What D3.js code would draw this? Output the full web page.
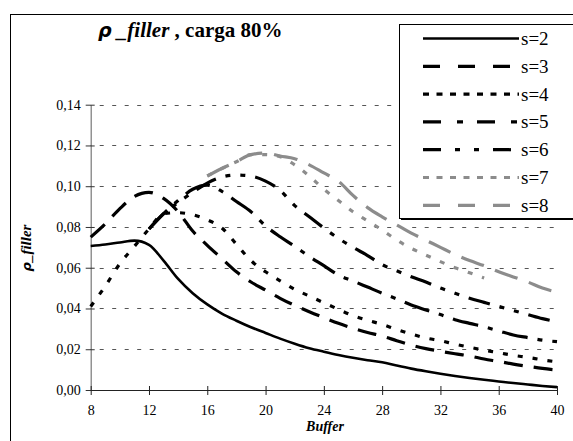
<!DOCTYPE html>
<html><head><meta charset="utf-8">
<script src="https://cdn.jsdelivr.net/npm/d3@7"></script>
<style>
html,body{margin:0;padding:0;background:#fff;}
svg{display:block;}
</style></head>
<body>
<svg id="chart" width="573" height="441"></svg>
<script>
// ---- data ----
const buffers = [8,9,10,11,12,13,14,15,16,17,18,19,20,21,22,23,24,25,26,27,28,29,30,31,32,33,34,35,36,37,38,39,40];
const s2 = [.0707,.0714,.0724,.0733,.0712,.0635,.0545,.0475,.0420,.0375,.0340,.0308,.0280,.0252,.0227,.0205,.0188,.0172,.0158,.0146,.0136,.0120,.0105,.0092,.0080,.0069,.0059,.0050,.0042,.0034,.0027,.0020,.0014];
const s3 = [.075,.0815,.089,.095,.097,.094,.0875,.078,.071,.0645,.058,.053,.049,.045,.0415,.0384,.0355,.0327,.0303,.0282,.0265,.0242,.022,.0203,.019,.0178,.0167,.0152,.014,.0127,.0116,.0106,.0098];
const s4 = [.041,.051,.062,.0705,.079,.0865,.087,.086,.0835,.0795,.0715,.0635,.058,.0536,.0494,.0461,.0428,.0396,.0365,.0342,.0322,.0297,.0275,.0255,.0242,.0225,.021,.0195,.0183,.017,.016,.0148,.0138];
const s5 = [null,null,null,null,.079,.0865,.093,.0985,.1005,.0975,.0925,.0875,.0805,.0752,.0705,.0655,.061,.0564,.0535,.0505,.0475,.0447,.0417,.0393,.037,.0345,.0327,.031,.029,.027,.0257,.0245,.0237];
const s6 = [null,null,null,null,.079,.0865,.092,.097,.1015,.1045,.1055,.105,.1025,.098,.0905,.085,.0795,.0744,.070,.066,.0615,.0585,.0556,.053,.050,.0475,.045,.043,.041,.039,.037,.035,.0335];
const s7 = [null,null,null,null,null,null,null,null,.105,.1087,.112,.1155,.1155,.1145,.1105,.105,.0985,.093,.0875,.083,.0785,.0736,.0695,.0662,.063,.060,.0575,.055,null,null,null,null,null];
const s8 = [null,null,null,null,null,null,null,null,.105,.1087,.112,.1155,.1163,.1148,.1135,.1105,.1065,.1025,.0955,.0895,.085,.081,.077,.0735,.070,.0665,.0635,.061,.058,.0555,.053,.050,.048];
const seriesNames = ["s=2","s=3","s=4","s=5","s=6","s=7","s=8"];
const seriesValues = [s2,s3,s4,s5,s6,s7,s8];
const yTicks = [0,0.02,0.04,0.06,0.08,0.10,0.12,0.14];
const xTicks = [8,12,16,20,24,28,32,36,40];

// ---- styles ----
const SERIF = '"Liberation Serif"';
const styles = [
  {color:"#000", width:2.6, dash:null, legDash:null},
  {color:"#000", width:3.2, dash:"19,11", legDash:"17,18"},
  {color:"#000", width:3.2, dash:"5,10", legDash:"6,7.5"},
  {color:"#000", width:3.2, dash:"26,10,5,10", legDash:"18,16,6,14"},
  {color:"#000", width:3.2, dash:"22,10,5,10,5,10", legDash:"18,14,5,14,5,14"},
  {color:"#8c8c8c", width:3.2, dash:"5,10", legDash:"6,7.5"},
  {color:"#8c8c8c", width:3.2, dash:"24,12", legDash:"17,18"}
];

const svg = d3.select("#chart");
const x = d3.scaleLinear().domain([8,40]).range([90.7,557]);
const y = d3.scaleLinear().domain([0,0.14]).range([390,104.7]);

// outer frame
svg.append("rect").attr("x",10.5).attr("y",14.5).attr("width",575).attr("height",440)
  .attr("fill","#fff").attr("stroke","#000").attr("stroke-width",1);

// gridlines
svg.append("g").selectAll("line").data(yTicks.filter(d=>d>0)).join("line")
  .attr("x1",x(8)).attr("x2",x(40))
  .attr("y1",d=>Math.round(y(d))+0.5).attr("y2",d=>Math.round(y(d))+0.5)
  .attr("stroke","#555").attr("stroke-width",1).attr("stroke-dasharray","4,8.5")
  .attr("stroke-dashoffset",-9);

// y axis
const yAxis = svg.append("g").attr("transform",`translate(${x(8)},0)`)
  .call(d3.axisLeft(y).tickValues(yTicks).tickFormat(d=>d3.format(".2f")(d).replace(".",",")).tickSizeOuter(0));
yAxis.attr("font-family",null);
yAxis.select(".domain").attr("stroke","#777").attr("stroke-width",1.2);
yAxis.selectAll(".tick line").attr("x1",4).attr("x2",-5).attr("stroke","#333");
yAxis.selectAll(".tick text").attr("x",-10).style("font-size","14px").style("font-family",SERIF).attr("fill","#000");

// x axis
const xAxis = svg.append("g").attr("transform",`translate(0,${y(0)})`)
  .call(d3.axisBottom(x).tickValues(xTicks).tickSizeOuter(0));
xAxis.attr("font-family",null);
xAxis.select(".domain").attr("stroke","#222").attr("stroke-width",1.2);
xAxis.selectAll(".tick line").attr("y1",-4).attr("y2",5).attr("stroke","#222");
xAxis.selectAll(".tick text").attr("y",15).style("font-size","14px").style("font-family",SERIF).attr("fill","#000");

// lines
const line = d3.line().defined(d=>d[1]!=null).x(d=>x(d[0])).y(d=>y(d[1])).curve(d3.curveMonotoneX);
const order = [6,5,4,3,2,1,0];
svg.append("g").selectAll("path").data(order).join("path")
  .attr("d",i=>line(buffers.map((b,j)=>[b,seriesValues[i][j]])))
  .attr("fill","none").attr("stroke",i=>styles[i].color).attr("stroke-width",i=>styles[i].width)
  .attr("stroke-dasharray",i=>styles[i].dash).attr("stroke-linejoin","round");

// legend
const lg = svg.append("g");
lg.append("rect").attr("x",401).attr("y",26).attr("width",180).attr("height",194).attr("fill","#000");
lg.append("rect").attr("x",399.5).attr("y",24.5).attr("width",180).attr("height",194)
  .attr("fill","#fff").attr("stroke","#000").attr("stroke-width",1);
seriesNames.forEach((n,i)=>{
  const ly = 38.5 + i*27.8;
  lg.append("line").attr("x1",423).attr("x2",519).attr("y1",ly).attr("y2",ly)
    .attr("stroke",styles[i].color).attr("stroke-width",styles[i].width)
    .attr("stroke-dasharray",styles[i].legDash);
  lg.append("text").attr("x",521).attr("y",ly+6.5).style("font-size","19px").style("font-family",SERIF).text(n);
});

// title
const t = svg.append("text").attr("x",98).attr("y",37).style("font-size","21px").style("font-weight","bold").style("font-family",SERIF);
t.append("tspan").style("font-family",'"DejaVu Sans"').style("font-style","italic").style("font-size","19px").text("ρ");
t.append("tspan").style("font-style","italic").text(" _filler");
t.append("tspan").text(" , carga 80%");

// axis titles
svg.append("text").attr("x",325).attr("y",431).attr("text-anchor","middle")
  .style("font-size","14px").style("font-weight","bold").style("font-style","italic").style("font-family",SERIF).text("Buffer");
const yt = svg.append("text").attr("transform","translate(31,248) rotate(-90)").attr("text-anchor","middle")
  .style("font-size","15px").style("font-weight","bold").style("font-style","italic").style("font-family",SERIF);
yt.append("tspan").style("font-family",'"DejaVu Sans"').style("font-size","13px").text("ρ");
yt.append("tspan").text("_filler");
</script>
</body></html>
